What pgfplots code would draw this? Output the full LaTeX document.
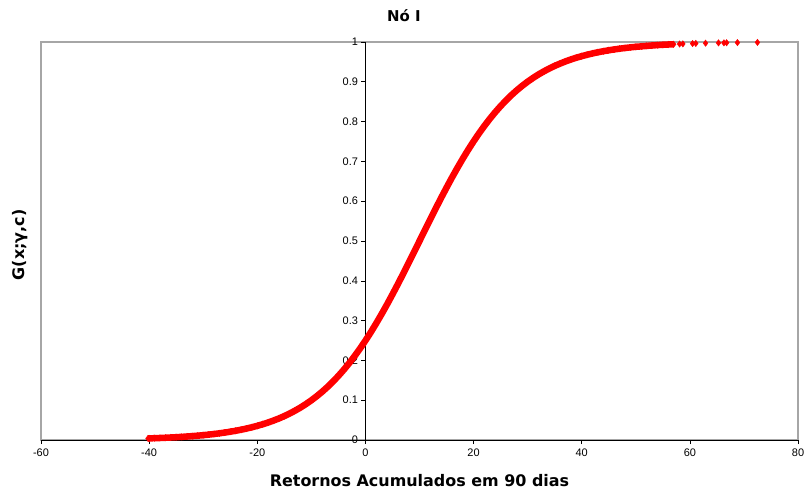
\documentclass[border=0pt]{standalone}
\usepackage{pgfplots}
\pgfplotsset{compat=1.18}
\usepackage{fontspec}
\setmainfont{Liberation Sans}
\newfontfamily\labfont{DejaVu Sans}
\begin{document}
\begin{tikzpicture}
\begin{axis}[
  scale only axis, width=757bp, height=398bp,
  xmin=-60, xmax=80, ymin=0, ymax=1,
  axis lines=middle,
  axis line style={-, black, line width=0.8pt},
  axis background/.style={draw=gray!70, line width=1.2pt},
  hide obscured x ticks=false, hide obscured y ticks=false,
  xtick={-60,-40,-20,0,20,40,60,80},
  xticklabels={-60,-40,-20,0,20,40,60,80},
  ytick={0,0.1,0.2,0.3,0.4,0.5,0.6,0.7,0.8,0.9,1},
  yticklabels={0,0.1,0.2,0.3,0.4,0.5,0.6,0.7,0.8,0.9,1},
  tick align=outside,
  major tick length=4bp,
  tick style={black, line width=0.6pt},
  tick label style={font=\fontsize{11}{12}\selectfont},
  xticklabel style={yshift=-1bp},
  title={\labfont\bfseries Nó I},
  title style={at={(axis description cs:0.4795,1)}, anchor=base, inner sep=0pt, yshift=15bp, font=\fontsize{15}{17}\selectfont},
  xlabel={\labfont\bfseries Retornos Acumulados em 90 dias},
  xlabel style={at={(axis description cs:0.5,0)}, anchor=base, inner sep=0pt, yshift=-46bp, font=\fontsize{16}{18}\selectfont},
  ylabel={\labfont\bfseries G(x;γ,c)},
  ylabel style={at={(axis description cs:-0.0172,0.49)}, anchor=south, rotate=90, inner sep=0pt, font=\fontsize{16}{18}\selectfont},
  clip=false,
]
\addplot[red, line width=6.5bp, mark=diamond*, mark size=3.2bp, mark options={red, line width=0.4pt}] coordinates {
(-40.2,0.0040) (-40,0.00407) (-39,0.00454) (-38,0.00506) (-37,0.00565) (-36,0.00630)
(-35,0.00703) (-34,0.00784) (-33,0.00875) (-32,0.00976) (-31,0.01088)
(-30,0.01213) (-29,0.01352) (-28,0.01507) (-27,0.01679) (-26,0.01871)
(-25,0.02084) (-24,0.02320) (-23,0.02583) (-22,0.02875) (-21,0.03198)
(-20,0.03557) (-19,0.03954) (-18,0.04394) (-17,0.04880) (-16,0.05417)
(-15,0.06009) (-14,0.06662) (-13,0.07380) (-12,0.08163) (-11,0.09033)
(-10,0.09975) (-9,0.1101) (-8,0.1213) (-7,0.1335) (-6,0.1468)
(-5,0.1611) (-4,0.1765) (-3,0.1931) (-2,0.2108) (-1,0.2297)
(0,0.2497) (1,0.2709) (2,0.2932) (3,0.3165) (4,0.3407)
(5,0.3659) (6,0.3917) (7,0.4182) (8,0.4452) (9,0.4725)
(10,0.5) (11,0.5275) (12,0.5548) (13,0.5818) (14,0.6083)
(15,0.6341) (16,0.6593) (17,0.6835) (18,0.7068) (19,0.7291)
(20,0.7503) (21,0.7703) (22,0.7892) (23,0.8069) (24,0.8235)
(25,0.8389) (26,0.8532) (27,0.8665) (28,0.8787) (29,0.8899)
(30,0.9003) (31,0.9097) (32,0.9184) (33,0.9262) (34,0.9334)
(35,0.9399) (36,0.9458) (37,0.9512) (38,0.9561) (39,0.9605)
(40,0.9644) (41,0.9680) (42,0.9713) (43,0.9742) (44,0.9768)
(45,0.9792) (46,0.9813) (47,0.9832) (48,0.9849) (49,0.9865)
(50,0.9879) (51,0.9890) (52,0.9902) (53,0.9912) (54,0.9922)
(55,0.9930) (56,0.9937) (57,0.99435)
};
\addplot[only marks, red, mark=diamond*, mark size=3.2bp, mark options={red, line width=0.4pt}] coordinates {
(58.1,0.9950) (58.7,0.9953) (60.5,0.9961) (61.1,0.9964) (62.9,0.9970)
(65.3,0.9977) (66.3,0.9979) (66.8,0.9981) (68.8,0.9985) (72.5,0.9990)
};
\coordinate (ll) at (rel axis cs:0,0);
\coordinate (ur) at (rel axis cs:1,1);
\end{axis}
\path ([xshift=-41bp,yshift=-55bp]ll) rectangle ([xshift=10bp,yshift=42bp]ur);
\end{tikzpicture}
\end{document}
